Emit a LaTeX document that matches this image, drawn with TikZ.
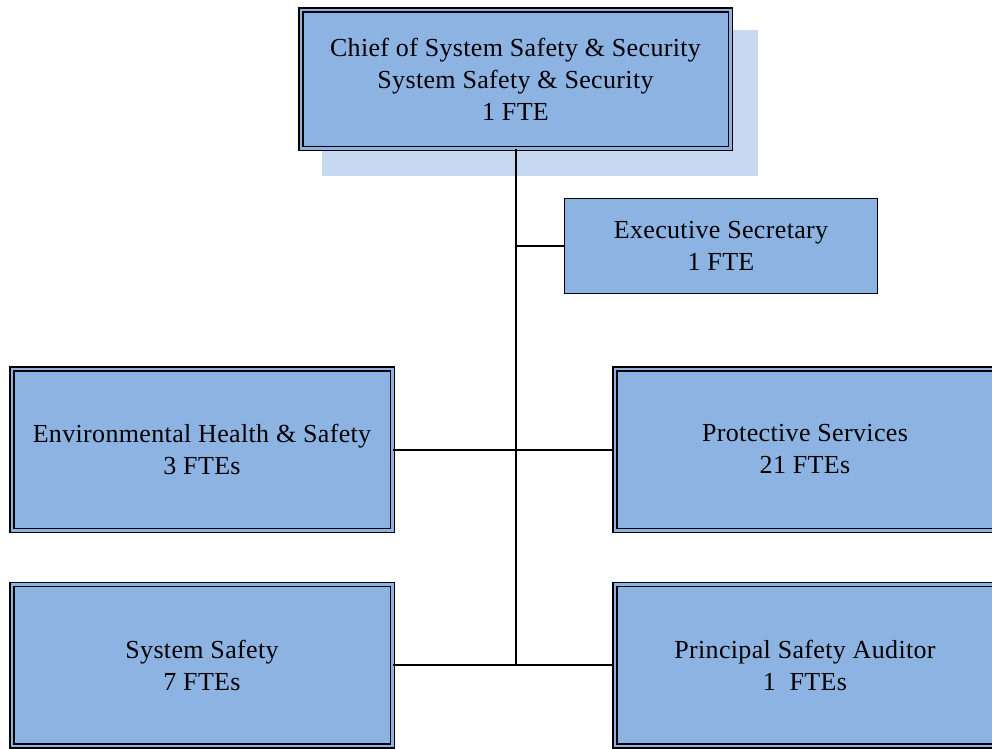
\documentclass[tikz,border=0pt]{standalone}
\usepackage{fontspec}
\setmainfont[LetterSpace=1.3]{Liberation Serif}
\usepackage{xcolor}
\usepackage{tikz}
\usetikzlibrary{positioning,calc}
\definecolor{orgBlue}{HTML}{8DB3E2}
\definecolor{orgShadow}{HTML}{C6D9F1}
\definecolor{orgInk}{HTML}{000000}
\tikzset{
  unitBox/.style={
    rectangle,
    draw=orgInk,
    fill=orgBlue,
    line width=1.5pt,
    inner sep=0pt,
    align=center,
    font=\fontsize{26}{32}\selectfont
  },
  unitBoxDouble/.style={
    unitBox,
    double=orgBlue,
    double distance=2.5pt,
    line width=1.5pt
  },
  link/.style={
    line width=2pt,
    draw=orgInk
  }
}

\begin{document}
\begin{tikzpicture}[x=1pt,y=-1pt]
  \path[use as bounding box,clip] (0,0) rectangle (992,748);
  \fill[orgShadow] (322,30) rectangle (758,176);
  \node[unitBoxDouble,minimum width=429.5pt,minimum height=138.5pt] (chief) at (515.5,79) {Chief of System Safety \& Security\\System Safety \& Security\\1 FTE};
  \node[unitBox,minimum width=313pt,minimum height=95pt] (execsec) at (721,246) {Executive Secretary\\1 FTE};
  \node[unitBoxDouble,minimum width=380.5pt,minimum height=161.5pt] (envhealth) at (202,449.5) {Environmental Health \& Safety\\3 FTEs};
  \node[unitBoxDouble,minimum width=380.5pt,minimum height=161.5pt] (protective) at (805,449.5) {Protective Services\\21 FTEs};
  \node[unitBoxDouble,minimum width=380.5pt,minimum height=161.5pt] (sysafety) at (202,665) {System Safety\\7 FTEs};
  \node[unitBoxDouble,minimum width=380.5pt,minimum height=161.5pt] (auditor) at (805,665) {Principal Safety Auditor\\1~~FTEs};
  \draw[link] (chief.south) -- (chief.south |- sysafety.east);
  \draw[link] (chief.south |- execsec.west) -- (execsec.west);
  \draw[link] (envhealth.east) -- (protective.west);
  \draw[link] (sysafety.east) -- (auditor.west);
\end{tikzpicture}
\end{document}
